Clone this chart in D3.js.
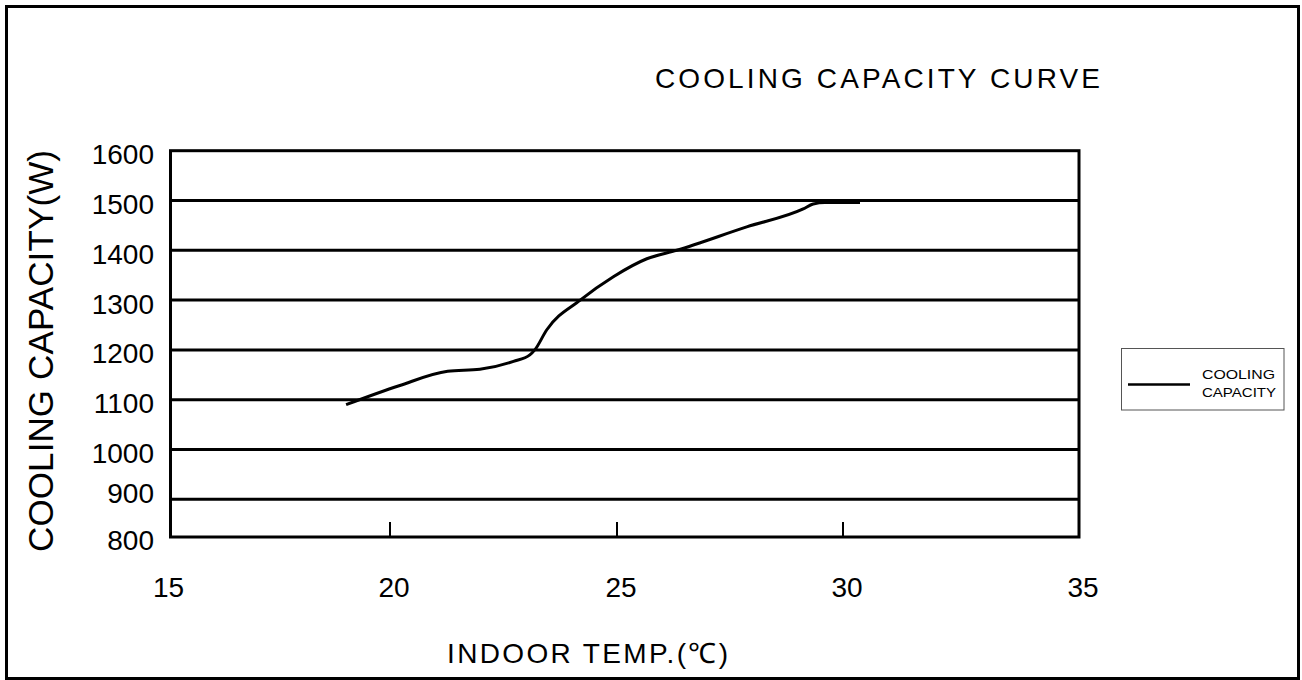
<!DOCTYPE html>
<html>
<head>
<meta charset="utf-8">
<script src="https://cdn.jsdelivr.net/npm/d3@7"></script>
<style>
  html, body { margin: 0; padding: 0; background: #fff; }
  svg { display: block; }
  text { font-family: "Liberation Sans", Arial, Helvetica, sans-serif; fill: #000; }
</style>
</head>
<body>
<svg id="chart" width="1302" height="680"></svg>
<script>
// Cooling capacity (W) against indoor temperature (°C)
const temps      = [19.0, 20.2, 21.27, 21.98, 22.72, 23.08, 23.19, 23.45, 24.19, 24.92, 25.66, 26.32, 27.87, 29.12, 29.34, 29.6, 30.36];
const capacities = [1090, 1128, 1157, 1161, 1177, 1190, 1200, 1240, 1300, 1347, 1383, 1400, 1447, 1483, 1493, 1496, 1496];

const xTicks = [15, 20, 25, 30, 35];
const yTicks = [800, 900, 1000, 1100, 1200, 1300, 1400, 1500, 1600];

const titleText  = "COOLING CAPACITY CURVE";
const xTitleText = "INDOOR TEMP.(℃)";
const yTitleText = "COOLING CAPACITY(W)";
const legendLines = ["COOLING", "CAPACITY"];

const svg = d3.select("#chart");

// Plot frame
const plotL = 170.5, plotR = 1079, plotT = 150.7, plotB = 537;

// The printed axes are not uniformly spaced, so piecewise scales follow the tick positions
const x = d3.scaleLinear()
  .domain(xTicks)
  .range([plotL, 390, 617, 843, plotR]);

const y = d3.scaleLinear()
  .domain([800, 900, 1600])
  .range([plotB, 499.3, plotT]);

// Outer border
svg.append("rect")
  .attr("x", 6.5).attr("y", 6.5)
  .attr("width", 1292).attr("height", 672)
  .attr("fill", "none").attr("stroke", "#000").attr("stroke-width", 3);

// Title
svg.append("text")
  .attr("x", 655).attr("y", 88)
  .attr("font-size", 28)
  .attr("textLength", 445).attr("lengthAdjust", "spacing")
  .text(titleText);

// Horizontal gridlines (inner ticks only; 800 and 1600 are the frame)
svg.append("g")
  .selectAll("line")
  .data(yTicks.filter(v => v > 800 && v < 1600))
  .join("line")
  .attr("x1", plotL).attr("x2", plotR)
  .attr("y1", d => y(d)).attr("y2", d => y(d))
  .attr("stroke", "#000").attr("stroke-width", 3);

// X tick marks along the bottom edge
svg.append("g")
  .selectAll("line")
  .data(xTicks.filter(v => v > 15 && v < 35))
  .join("line")
  .attr("x1", d => x(d)).attr("x2", d => x(d))
  .attr("y1", plotB).attr("y2", plotB - 15)
  .attr("stroke", "#000").attr("stroke-width", 2);

// Plot frame
svg.append("rect")
  .attr("x", plotL).attr("y", plotT)
  .attr("width", plotR - plotL).attr("height", plotB - plotT)
  .attr("fill", "none").attr("stroke", "#000").attr("stroke-width", 3);

// Y tick labels
svg.append("g")
  .selectAll("text")
  .data(yTicks)
  .join("text")
  .attr("x", 154)
  .attr("y", d => y(d) + (d === 900 ? -6 : d === 800 ? 3 : 4))
  .attr("text-anchor", "end")
  .attr("dominant-baseline", "central")
  .attr("font-size", 28)
  .text(d => d);

// X tick labels
svg.append("g")
  .selectAll("text")
  .data(xTicks)
  .join("text")
  .attr("x", d => x(d) + (d === 15 ? -2 : 4))
  .attr("y", 597)
  .attr("text-anchor", "middle")
  .attr("font-size", 28)
  .text(d => d);

// Axis titles
svg.append("text")
  .attr("x", 447).attr("y", 663)
  .attr("font-size", 28)
  .attr("textLength", 281).attr("lengthAdjust", "spacing")
  .text(xTitleText);

svg.append("text")
  .attr("transform", "translate(53,351) rotate(-90)")
  .attr("text-anchor", "middle")
  .attr("font-size", 35)
  .attr("textLength", 402).attr("lengthAdjust", "spacing")
  .text(yTitleText);

// Capacity curve
const pts = temps.map((t, i) => [t, capacities[i]]);
const line = d3.line()
  .x(d => x(d[0]))
  .y(d => y(d[1]))
  .curve(d3.curveMonotoneX);

svg.append("path")
  .datum(pts)
  .attr("d", line)
  .attr("fill", "none")
  .attr("stroke", "#000")
  .attr("stroke-width", 3)
  .attr("stroke-linejoin", "round");

// Legend
const lg = svg.append("g");
lg.append("rect")
  .attr("x", 1121.5).attr("y", 348.5)
  .attr("width", 162.5).attr("height", 61.5)
  .attr("fill", "#fff").attr("stroke", "#555").attr("stroke-width", 1);
lg.append("line")
  .attr("x1", 1128).attr("x2", 1190)
  .attr("y1", 384.5).attr("y2", 384.5)
  .attr("stroke", "#000").attr("stroke-width", 2.5);
lg.selectAll("text.lbl")
  .data(legendLines)
  .join("text")
  .attr("class", "lbl")
  .attr("x", 1202)
  .attr("y", (d, i) => 379 + i * 18)
  .attr("font-size", 12)
  .attr("textLength", (d, i) => i === 0 ? 73 : 74)
  .attr("lengthAdjust", "spacingAndGlyphs")
  .text(d => d);
</script>
</body>
</html>
